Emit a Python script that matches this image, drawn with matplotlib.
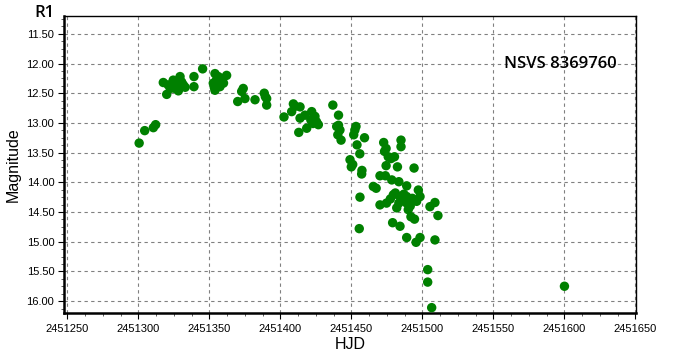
import numpy as np
import matplotlib
matplotlib.use("Agg")
import matplotlib.pyplot as plt
from matplotlib.ticker import MultipleLocator, FormatStrFormatter

plt.rcParams["font.family"] = ["Liberation Sans", "DejaVu Sans"]

# 觀測資料 (HJD, 星等)
hjd = [
    2451300.6, 2451304.5, 2451310.6, 2451312.2, 2451317.6, 2451320.0, 2451321.0,
    2451322.5, 2451323.5, 2451324.6, 2451325.8, 2451326.5, 2451327.5, 2451328.2,
    2451329.4, 2451330.5, 2451331.7, 2451333.0, 2451339.2, 2451339.2, 2451345.3,
    2451352.8, 2451353.5, 2451354.0, 2451354.0, 2451355.0, 2451356.3, 2451357.5,
    2451358.7, 2451360.0, 2451362.2, 2451370.0, 2451372.8, 2451373.9, 2451375.1,
    2451382.2, 2451388.7, 2451389.5, 2451390.4, 2451390.4, 2451402.6, 2451409.2,
    2451408.0, 2451410.5, 2451413.9, 2451413.9, 2451417.4, 2451418.6, 2451413.0,
    2451422.1, 2451424.4, 2451423.0, 2451425.5, 2451426.8, 2451421.5, 2451437.0,
    2451441.0, 2451439.7, 2451442.0, 2451440.5, 2451442.8, 2451441.0, 2451453.3,
    2451452.5, 2451451.7, 2451454.0, 2451456.0, 2451449.1, 2451450.0, 2451451.0,
    2451457.5, 2451457.3, 2451459.3, 2451456.1, 2451455.6, 2451465.5, 2451467.5,
    2451470.2, 2451472.8, 2451473.4, 2451474.5, 2451476.0, 2451474.5, 2451478.0,
    2451480.4, 2451482.5, 2451485.0, 2451485.0, 2451474.0, 2451478.5, 2451483.5,
    2451489.0, 2451494.2, 2451479.6, 2451484.3, 2451489.0, 2451497.2, 2451498.4,
    2451496.0, 2451470.2, 2451474.8, 2451483.5, 2451489.0, 2451482.0, 2451490.1,
    2451505.4, 2451508.9, 2451511.0, 2451492.0, 2451494.5, 2451486.0, 2451491.5,
    2451477.5, 2451481.0, 2451487.0, 2451493.0, 2451479.1, 2451484.3, 2451489.0,
    2451495.6, 2451498.4, 2451508.9, 2451503.8, 2451503.8, 2451506.6, 2451600.1,
]
mag = [
    13.34, 13.13, 13.08, 13.03, 12.32, 12.52, 12.36,
    12.42, 12.39, 12.28, 12.42, 12.35, 12.30, 12.46,
    12.22, 12.31, 12.36, 12.40, 12.22, 12.39, 12.09,
    12.33, 12.40, 12.17, 12.45, 12.28, 12.22, 12.39,
    12.25, 12.33, 12.20, 12.64, 12.47, 12.42, 12.59,
    12.61, 12.50, 12.56, 12.59, 12.70, 12.90, 12.68,
    12.81, 12.72, 12.73, 12.92, 12.87, 13.09, 13.16,
    12.81, 12.89, 13.01, 12.98, 13.03, 12.95, 12.70,
    12.87, 13.06, 13.12, 13.20, 13.29, 13.04, 13.06,
    13.12, 13.20, 13.37, 13.52, 13.62, 13.74, 13.70,
    13.80, 13.86, 13.25, 14.25, 14.78, 14.07, 14.10,
    13.89, 13.33, 13.48, 13.43, 13.57, 13.72, 13.60,
    13.57, 13.74, 13.29, 13.40, 13.89, 13.96, 13.99,
    14.06, 13.76, 14.21, 14.24, 14.24, 14.13, 14.24,
    14.32, 14.38, 14.35, 14.35, 14.35, 14.43, 14.46,
    14.41, 14.34, 14.56, 14.58, 14.62, 14.30, 14.40,
    14.28, 14.18, 14.20, 14.27, 14.68, 14.74, 14.93,
    15.01, 14.93, 14.97, 15.47, 15.68, 16.11, 15.75,
]

star_name = "NSVS 8369760"
band = "R1"

# 繪製圖表
fig = plt.figure(figsize=(6.79, 3.6), dpi=100)
ax = fig.add_axes([0.0943, 0.1306, 0.8424, 0.825])

ax.scatter(hjd, mag, s=46, color="#008000", edgecolors="none", zorder=3)

ax.set_xlim(2451247.7, 2451650.5)
ax.set_ylim(16.2, 11.2)

ax.xaxis.set_major_locator(MultipleLocator(50))
ax.xaxis.set_minor_locator(MultipleLocator(12.5))
ax.xaxis.set_major_formatter(FormatStrFormatter("%d"))
ax.yaxis.set_major_locator(MultipleLocator(0.5))
ax.yaxis.set_minor_locator(MultipleLocator(0.125))
ax.yaxis.set_major_formatter(FormatStrFormatter("%.2f"))

ax.tick_params(axis="both", which="major", labelsize=8, length=4, width=0.8, color="black")
ax.tick_params(axis="both", which="minor", length=2, width=0.6, color="#444444")
ax.tick_params(axis="x", which="major", pad=4)
ax.tick_params(axis="y", which="major", pad=3)

ax.grid(True, which="major", color="#808080", linestyle=(0, (3, 3)), linewidth=0.8)

for side in ["left", "bottom"]:
    ax.spines[side].set_linewidth(1.8)
for side in ["top", "right"]:
    ax.spines[side].set_linewidth(1.0)

ax.set_xlabel("HJD", fontsize=11.5, labelpad=2)
ax.set_ylabel("Magnitude", fontsize=11.5, labelpad=4)

# 標籤文字
fig.text(44 / 679, 1 - 13 / 360, band, fontsize=12, fontweight="semibold",
         family=["Open Sans", "DejaVu Sans"], ha="center", va="center")
ax.text(2451597, 12.0, star_name, fontsize=12, fontweight="semibold",
        family=["Open Sans", "DejaVu Sans"], ha="center", va="center")

plt.savefig("out.png", dpi=100)
